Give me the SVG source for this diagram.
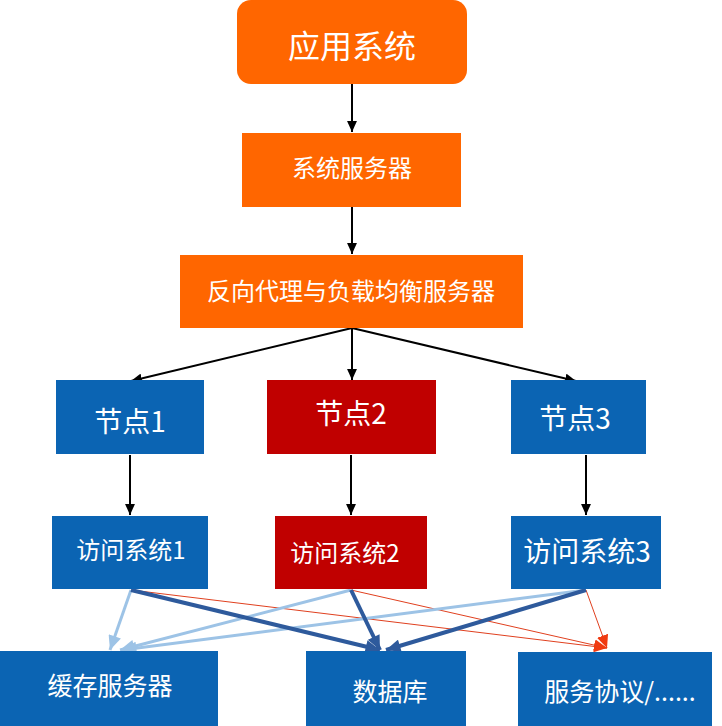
<svg xmlns="http://www.w3.org/2000/svg" width="722" height="726" viewBox="0 0 722 726">
<style>
.or{fill:#FF6600}
.bl{fill:#0B64B3}
.rd{fill:#C00000}
text{fill:#FFFFFF;font-family:"Noto Sans CJK SC","Microsoft YaHei",sans-serif;text-anchor:middle;dominant-baseline:central}
.k{stroke:#000;stroke-width:2;fill:none}
.lb{stroke:#9DC3E6;stroke-width:3;fill:none}
.db{stroke:#2E5A9C;stroke-width:4;fill:none}
.rl{stroke:#E0401F;stroke-width:1;fill:none}
</style>
<defs>
<marker id="ak" viewBox="0 0 10 9" refX="10" refY="4.5" markerWidth="11" markerHeight="10" markerUnits="userSpaceOnUse" orient="auto"><path d="M0,0 L10,4.5 L0,9 z" fill="#000"/></marker>
<marker id="alb" viewBox="0 0 10 9" refX="10" refY="4.5" markerWidth="15" markerHeight="13" markerUnits="userSpaceOnUse" orient="auto"><path d="M0,0 L10,4.5 L0,9 z" fill="#9DC3E6"/></marker>
<marker id="adb" viewBox="0 0 10 9" refX="10" refY="4.5" markerWidth="15" markerHeight="13" markerUnits="userSpaceOnUse" orient="auto"><path d="M0,0 L10,4.5 L0,9 z" fill="#2E5A9C"/></marker>
<marker id="ard" viewBox="0 0 10 9" refX="10" refY="4.5" markerWidth="13" markerHeight="12" markerUnits="userSpaceOnUse" orient="auto"><path d="M0,0 L10,4.5 L0,9 z" fill="#F03A10"/></marker>
</defs>
<rect width="722" height="726" fill="#FFFFFF"/>
<g id="connectors">
<line class="k" x1="352" y1="84" x2="352" y2="132" marker-end="url(#ak)"/>
<line class="k" x1="352" y1="207" x2="352" y2="254" marker-end="url(#ak)"/>
<line class="k" x1="352" y1="328" x2="131" y2="381" marker-end="url(#ak)"/>
<line class="k" x1="352" y1="328" x2="352" y2="380" marker-end="url(#ak)"/>
<line class="k" x1="352" y1="328" x2="576" y2="381" marker-end="url(#ak)"/>
<line class="k" x1="130" y1="455" x2="130" y2="515" marker-end="url(#ak)"/>
<line class="k" x1="351" y1="455" x2="351" y2="515" marker-end="url(#ak)"/>
<line class="k" x1="586" y1="455" x2="586" y2="515" marker-end="url(#ak)"/>
<line class="rl" x1="131" y1="590" x2="607" y2="648" marker-end="url(#ard)"/>
<line class="rl" x1="351" y1="590" x2="607" y2="648" marker-end="url(#ard)"/>
<line class="rl" x1="586" y1="590" x2="607" y2="648" marker-end="url(#ard)"/>
<line class="lb" x1="131" y1="590" x2="110" y2="650" marker-end="url(#alb)"/>
<line class="lb" x1="351" y1="590" x2="120" y2="650" marker-end="url(#alb)"/>
<line class="lb" x1="586" y1="590" x2="122" y2="650" marker-end="url(#alb)"/>
<line class="db" x1="131" y1="590" x2="380" y2="650" marker-end="url(#adb)"/>
<line class="db" x1="351" y1="590" x2="380" y2="650" marker-end="url(#adb)"/>
<line class="db" x1="586" y1="590" x2="386" y2="650" marker-end="url(#adb)"/>
</g>
<g id="n-app"><rect class="or" x="237" y="0" width="230" height="84" rx="14"/><text x="352" y="44" font-size="32">应用系统</text></g>
<g id="n-sys"><rect class="or" x="242" y="133" width="219" height="74"/><text x="352" y="166" font-size="24">系统服务器</text></g>
<g id="n-proxy"><rect class="or" x="180" y="255" width="343" height="73"/><text x="351" y="289" font-size="24">反向代理与负载均衡服务器</text></g>
<g id="n-node1"><rect class="bl" x="56" y="380" width="148" height="74"/><text x="130" y="420" font-size="28">节点1</text></g>
<g id="n-node2"><rect class="rd" x="267" y="380" width="169" height="74"/><text x="351" y="412" font-size="28">节点2</text></g>
<g id="n-node3"><rect class="bl" x="511" y="380" width="135" height="74"/><text x="575" y="417" font-size="28">节点3</text></g>
<g id="n-acc1"><rect class="bl" x="52" y="516" width="156" height="73"/><text x="131" y="548" font-size="24">访问系统1</text></g>
<g id="n-acc2"><rect class="rd" x="275" y="516" width="152" height="73"/><text x="345" y="551" font-size="24">访问系统2</text></g>
<g id="n-acc3"><rect class="bl" x="511" y="516" width="150" height="73"/><text x="587" y="550" font-size="28">访问系统3</text></g>
<g id="n-cache"><rect class="bl" x="0" y="651" width="218" height="75"/><text x="110" y="684" font-size="25">缓存服务器</text></g>
<g id="n-db"><rect class="bl" x="306" y="651" width="160" height="75"/><text x="390" y="690" font-size="25">数据库</text></g>
<g id="n-svc"><rect class="bl" x="518" y="652" width="194" height="74"/><text x="620" y="690" font-size="25">服务协议/......</text></g>
</svg>
